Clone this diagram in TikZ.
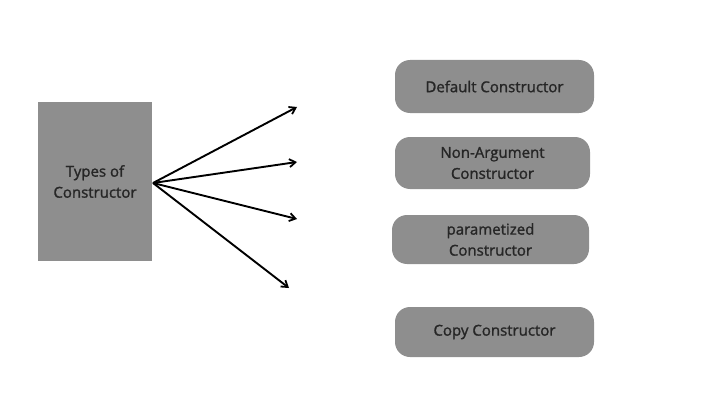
\documentclass[tikz,border=0pt]{standalone}
\usepackage{fontspec}
\setmainfont{Open Sans}
\newfontfamily\labelfont{Open Sans}[FakeBold=1.4]
\usetikzlibrary{arrows.meta}
\definecolor{boxgrey}{HTML}{8E8E8E}
\definecolor{txt}{HTML}{262626}
\begin{document}
\begin{tikzpicture}[x=1pt,y=-1pt,
  every node/.style={font=\labelfont\fontsize{15}{21}\selectfont, text=txt, align=center},
  mainbox/.style={fill=boxgrey, draw=none, minimum width=114pt, minimum height=159pt, inner sep=0pt},
  typebox/.style={fill=boxgrey, draw=none, rounded corners=15pt, inner sep=0pt},
  conn/.style={line width=1.9pt, -{Straight Barb[length=6pt,width=8pt,line width=1.8pt]}}]
\useasboundingbox (0,0) rectangle (720,404);
\node[mainbox] (main) at (95,181.5) {Types of\\Constructor};
\coordinate (o) at (153,183);
\coordinate (t1) at (297,107);
\coordinate (t2) at (297,162);
\coordinate (t3) at (297,219);
\coordinate (t4) at (289,288);
\node[typebox, minimum width=199pt, minimum height=53pt] (b1) at (494.5,86.5) {Default Constructor};
\node[typebox, minimum width=195pt, minimum height=52pt] (b2) at (492.5,163) {Non-Argument\\Constructor};
\node[typebox, minimum width=197pt, minimum height=49pt] (b3) at (490.5,239.5) {parametized\\Constructor};
\node[typebox, minimum width=199pt, minimum height=50pt] (b4) at (494.5,332) {Copy Constructor};
\draw[conn] (o) -- (t1);
\draw[conn] (o) -- (t2);
\draw[conn] (o) -- (t3);
\draw[conn] (o) -- (t4);
\end{tikzpicture}
\end{document}
